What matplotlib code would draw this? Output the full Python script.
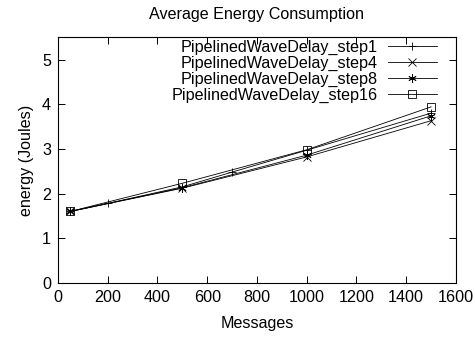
import matplotlib
matplotlib.use('Agg')
import matplotlib.pyplot as plt

plt.rcParams['font.family'] = ['Liberation Sans', 'DejaVu Sans']

# 측정 데이터
msgs_step1 = [50, 200, 500, 700, 1000, 1500]
energy_step1 = [1.6, 1.78, 2.15, 2.48, 2.97, 3.80]

msgs_other = [50, 500, 1000, 1500]
energy_step4 = [1.6, 2.12, 2.82, 3.63]
energy_step8 = [1.6, 2.13, 2.86, 3.74]
energy_step16 = [1.6, 2.23, 2.98, 3.94]

fs = 11.6

fig = plt.figure(figsize=(4.75, 3.38), dpi=100)
ax = fig.add_axes([0.122, 0.163, 0.838, 0.727])

style = dict(color='black', linewidth=0.6, markersize=6, markeredgewidth=0.6)
ax.plot(msgs_step1, energy_step1, marker='+', label='PipelinedWaveDelay_step1', **style)
ax.plot(msgs_other, energy_step4, marker='x', label='PipelinedWaveDelay_step4', **style)
ax.plot(msgs_other, energy_step8, marker=(6, 2, 0), label='PipelinedWaveDelay_step8', **style)
ax.plot(msgs_other, energy_step16, marker='s', markerfacecolor='none',
        label='PipelinedWaveDelay_step16', **dict(style, markersize=5.5))

ax.set_xlim(0, 1600)
ax.set_ylim(0, 5.5)
ax.set_xticks(range(0, 1601, 200))
ax.set_yticks(range(0, 6))
ax.tick_params(direction='in', top=True, right=True, labelsize=fs, length=5, width=0.7, pad=5)
for s in ax.spines.values():
    s.set_linewidth(0.8)

ax.set_xlabel('Messages', fontsize=fs, labelpad=8)
ax.set_ylabel('energy (Joules)', fontsize=fs, labelpad=6)
ax.set_title('Average Energy Consumption', fontsize=fs, pad=13)

leg = ax.legend(loc='upper right', markerfirst=False, frameon=False, fontsize=fs,
                handlelength=3.05, labelspacing=0.05, borderaxespad=0, borderpad=0,
                handletextpad=0.6, bbox_to_anchor=(0.952, 0.99))
for t in leg.get_texts():
    t.set_ha('right')

fig.savefig('out.png', dpi=100)
